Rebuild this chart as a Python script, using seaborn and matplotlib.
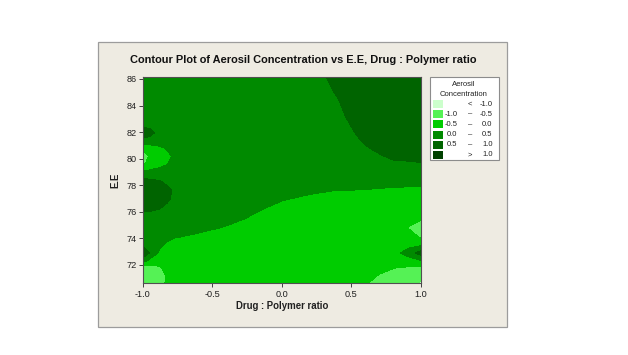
import numpy as np
import matplotlib
matplotlib.use("Agg")
import matplotlib.pyplot as plt
import seaborn as sns
from matplotlib.patches import Rectangle

# ---------------- data ----------------
drug_polymer_ratio = [-1.0, -0.95, -0.88, -0.83, -0.78, -0.65, -0.4, 0.0, 0.2, 0.4, 0.5,
                      0.6, 0.7, 0.8, 0.92, 1.0]
ee = [70.62, 71.2, 71.8, 72.3, 72.9, 73.5, 74.1, 74.8, 75.5, 76.2, 76.9, 77.6,
      78.3, 79.0, 79.6, 80.2, 80.8, 81.4, 81.95, 82.5, 83.3, 84.2, 85.2, 86.15]

# Aerosil concentration: one list per Drug:Polymer ratio column, listed along E.E (bottom -> top)
aerosil_ratio_m100 = [-0.8, -1.05, -0.99, 0.2, 0.85, 0.45, 0.25, 0.25, 0.3, 0.55, 0.8, 0.85,
                      0.65, 0.05, -0.6, -0.75, -0.45, 0.35, 0.75, 0.4, 0.25, 0.25, 0.25, 0.25]
aerosil_ratio_m095 = [-0.75, -0.85, -0.7, -0.2, 0.45, 0.3, 0.25, 0.25, 0.3, 0.55, 0.75, 0.78,
                      0.6, 0.1, -0.35, -0.47, -0.25, 0.3, 0.69, 0.33, 0.25, 0.25, 0.25, 0.25]
aerosil_ratio_m088 = [-0.6, -0.65, -0.55, -0.35, -0.1, 0.1, 0.2, 0.25, 0.28, 0.49, 0.68, 0.7,
                      0.52, 0.15, -0.15, -0.25, -0.08, 0.2, 0.25, 0.25, 0.25, 0.25, 0.25, 0.25]
aerosil_ratio_m083 = [-0.48, -0.49, -0.42, -0.33, -0.2, -0.07, 0.1, 0.2, 0.26, 0.38, 0.57, 0.6,
                      0.42, 0.17, -0.03, -0.12, 0.02, 0.2, 0.25, 0.25, 0.25, 0.25, 0.25, 0.25]
aerosil_ratio_m078 = [-0.4, -0.42, -0.35, -0.3, -0.25, -0.15, 0.02, 0.15, 0.22, 0.3, 0.42, 0.47,
                      0.35, 0.18, 0.08, 0.03, 0.1, 0.2, 0.25, 0.25, 0.25, 0.25, 0.25, 0.25]
aerosil_ratio_m065 = [-0.3, -0.3, -0.28, -0.27, -0.25, -0.2, -0.05, 0.12, 0.2, 0.24, 0.28, 0.3,
                      0.28, 0.25, 0.22, 0.2, 0.22, 0.25, 0.25, 0.25, 0.25, 0.25, 0.25, 0.25]
aerosil_ratio_m040 = [-0.25, -0.25, -0.25, -0.25, -0.25, -0.25, -0.2, -0.03, 0.1, 0.18, 0.22, 0.25,
                      0.25, 0.25, 0.25, 0.25, 0.25, 0.25, 0.25, 0.25, 0.25, 0.25, 0.25, 0.25]
aerosil_ratio_p000 = [-0.25, -0.25, -0.25, -0.25, -0.25, -0.25, -0.25, -0.25, -0.2, -0.1, 0.01, 0.1,
                      0.17, 0.2, 0.2, 0.2, 0.2, 0.2, 0.2, 0.2, 0.2, 0.2, 0.2, 0.2]
aerosil_ratio_p020 = [-0.25, -0.25, -0.25, -0.25, -0.25, -0.25, -0.25, -0.25, -0.25, -0.2, -0.08, 0.05,
                      0.15, 0.2, 0.22, 0.23, 0.24, 0.25, 0.25, 0.26, 0.26, 0.27, 0.3, 0.35]
aerosil_ratio_p040 = [-0.3, -0.25, -0.25, -0.25, -0.25, -0.25, -0.25, -0.25, -0.25, -0.2, -0.12, -0.01,
                      0.12, 0.22, 0.25, 0.27, 0.3, 0.33, 0.36, 0.39, 0.43, 0.47, 0.54, 0.6]
aerosil_ratio_p050 = [-0.38, -0.3, -0.27, -0.25, -0.25, -0.25, -0.25, -0.25, -0.25, -0.22, -0.14, -0.01,
                      0.12, 0.24, 0.29, 0.33, 0.37, 0.42, 0.46, 0.505, 0.56, 0.61, 0.66, 0.7]
aerosil_ratio_p060 = [-0.48, -0.4, -0.33, -0.3, -0.25, -0.25, -0.25, -0.25, -0.25, -0.25, -0.15, -0.02,
                      0.12, 0.25, 0.33, 0.4, 0.47, 0.54, 0.6, 0.64, 0.68, 0.71, 0.74, 0.76]
aerosil_ratio_p070 = [-0.6, -0.52, -0.42, -0.33, -0.25, -0.25, -0.25, -0.27, -0.26, -0.24, -0.15, -0.04,
                      0.11, 0.28, 0.38, 0.47, 0.56, 0.62, 0.66, 0.7, 0.73, 0.76, 0.78, 0.8]
aerosil_ratio_p080 = [-0.7, -0.6, -0.49, -0.35, -0.25, -0.25, -0.25, -0.3, -0.28, -0.22, -0.14, -0.06,
                      0.1, 0.3, 0.44, 0.55, 0.63, 0.68, 0.72, 0.75, 0.78, 0.8, 0.82, 0.84]
aerosil_ratio_p092 = [-0.8, -0.7, -0.55, -0.3, 0.3, -0.2, -0.35, -0.55, -0.35, -0.25, -0.15, -0.07,
                      0.09, 0.3, 0.45, 0.58, 0.66, 0.72, 0.76, 0.79, 0.82, 0.85, 0.87, 0.89]
aerosil_ratio_p100 = [-1.1, -0.85, -0.6, -0.1, 0.7, -0.1, -0.55, -0.75, -0.45, -0.25, -0.15, -0.07,
                      0.09, 0.3, 0.47, 0.6, 0.7, 0.75, 0.8, 0.82, 0.85, 0.87, 0.9, 0.92]

level_bounds = [-1.0, -0.5, 0.0, 0.5, 1.0]
band_colors = ["#ccffcc", "#55f255", "#00cc00", "#008a00", "#006400", "#004000"]
legend_low = ["", "-1.0", "-0.5", "0.0", "0.5", ""]
legend_sym = ["<", "\u2013", "\u2013", "\u2013", "\u2013", ">"]
legend_high = ["-1.0", "-0.5", "0.0", "0.5", "1.0", "1.0"]
x_ticks = [-1.0, -0.5, 0.0, 0.5, 1.0]
y_ticks = [72, 74, 76, 78, 80, 82, 84, 86]

title_text = "Contour Plot of Aerosil Concentration vs E.E, Drug : Polymer ratio"
x_label = "Drug : Polymer ratio"
y_label = "E.E"
legend_title = ["Aerosil", "Concentration"]

# ---------------- drawing ----------------
sns.set_theme(style="white")
plt.rcParams["font.family"] = ["Liberation Sans", "DejaVu Sans"]

W, H = 628, 355
fig = plt.figure(figsize=(W / 100, H / 100), dpi=100)
fig.patch.set_facecolor("white")


def fx(px):
    return px / W


def fy(py):
    return 1 - py / H


# beige panel (behind everything)
panel = Rectangle((fx(98), fy(327)), fx(507) - fx(98), fy(42) - fy(327),
                  transform=fig.transFigure, facecolor="#eeebe2",
                  edgecolor="#9c9c9c", linewidth=0.9, zorder=-5)
fig.patches.append(panel)

ax = fig.add_axes([fx(142.7), fy(283.3), fx(421) - fx(142.7), fy(77) - fy(283.3)])
ax.set_zorder(1)

columns = [aerosil_ratio_m100, aerosil_ratio_m095, aerosil_ratio_m088, aerosil_ratio_m083,
           aerosil_ratio_m078, aerosil_ratio_m065, aerosil_ratio_m040, aerosil_ratio_p000,
           aerosil_ratio_p020, aerosil_ratio_p040, aerosil_ratio_p050, aerosil_ratio_p060,
           aerosil_ratio_p070, aerosil_ratio_p080, aerosil_ratio_p092, aerosil_ratio_p100]
Z = np.array(columns).T
X, Y = np.meshgrid(drug_polymer_ratio, ee)

cs = ax.contourf(X, Y, Z, levels=level_bounds, colors=band_colors, extend="both")
cs.set_edgecolor("face")
cs.set_linewidth(0.4)

ax.set_xlim(-1.0, 1.0)
ax.set_ylim(70.62, 86.15)
ax.set_xticks(x_ticks)
ax.set_xticklabels([f"{v:.1f}" for v in x_ticks])
ax.set_yticks(y_ticks)
ax.set_yticklabels([str(v) for v in y_ticks])
ax.tick_params(axis="both", which="both", direction="out", length=3, width=0.7,
               color="#404040", labelsize=6.6, labelcolor="#202020", pad=1.5,
               bottom=True, left=True, top=False, right=False)
for s in ax.spines.values():
    s.set_color("#505050")
    s.set_linewidth(0.8)

ax.set_xlabel(x_label, fontsize=6.9, fontweight="bold", color="#202020", labelpad=2)
ax.set_ylabel(y_label, fontsize=6.9, fontweight="bold", color="#202020", labelpad=4)

# title fitted to the reference width
t = fig.text(fx(303.5), fy(60), title_text, ha="center", va="center",
             fontsize=8, fontweight="bold", color="#111111", zorder=3)
r = fig.canvas.get_renderer()
w = t.get_window_extent(renderer=r).width
t.set_fontsize(8 * 347 / w)

# legend box
lb = Rectangle((fx(430), fy(160)), fx(499) - fx(430), fy(77) - fy(160),
               transform=fig.transFigure, facecolor="white", edgecolor="#8c8c8c",
               linewidth=0.8, zorder=2)
fig.patches.append(lb)
fig.text(fx(464), fy(84.5), legend_title[0], ha="center", va="center", fontsize=5.5,
         color="#222222", zorder=3)
fig.text(fx(464), fy(94.5), legend_title[1], ha="center", va="center", fontsize=5.5,
         color="#222222", zorder=3)
row_y0, row_dy = 104.0, 10.2
for i, c in enumerate(band_colors):
    yc = row_y0 + i * row_dy
    sw = Rectangle((fx(433.3), fy(yc + 4)), fx(442.7) - fx(433.3), fy(yc - 4) - fy(yc + 4),
                   transform=fig.transFigure, facecolor=c, edgecolor="none", zorder=3)
    fig.patches.append(sw)
    if legend_low[i]:
        fig.text(fx(457.5), fy(yc), legend_low[i], ha="right", va="center", fontsize=5.5,
                 color="#222222", zorder=3)
    fig.text(fx(470), fy(yc), legend_sym[i], ha="center", va="center", fontsize=5.5,
             color="#222222", zorder=3)
    fig.text(fx(492.5), fy(yc), legend_high[i], ha="right", va="center", fontsize=5.5,
             color="#222222", zorder=3)

fig.savefig("out.png", dpi=100, facecolor="white")
